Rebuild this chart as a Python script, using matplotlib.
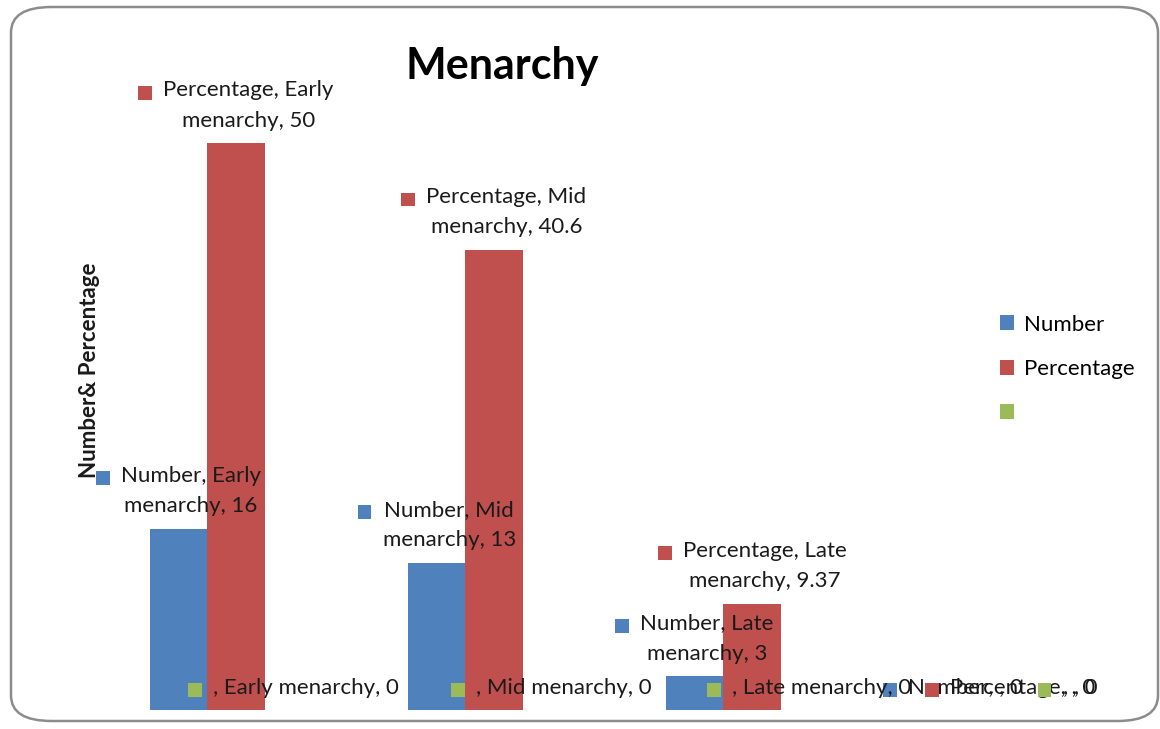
import textwrap

import matplotlib.pyplot as plt
import numpy as np
from matplotlib.offsetbox import AnnotationBbox, DrawingArea, HPacker, TextArea
from matplotlib.patches import FancyBboxPatch, Patch, Rectangle

categories = ["Early menarchy", "Mid menarchy", "Late menarchy", ""]
series_names = ["Number", "Percentage", ""]
number = [16, 13, 3, 0]
percentage = [50, 40.6, 9.37, 0]
third = [0, 0, 0, 0]
colors = ["#4f81bd", "#c0504d", "#9bbb59"]

plt.rcParams["font.family"] = ["Lato", "DejaVu Sans"]

fig = plt.figure(figsize=(11.6, 7.29), dpi=100)
ax = fig.add_axes([107 / 1160, 19 / 729, 1032 / 1160, 680 / 729])

# rounded chart border, Excel style
border = FancyBboxPatch((11 / 1160, 8 / 729), 1147 / 1160, 714 / 729,
                        boxstyle="round,pad=0,rounding_size=0.035",
                        transform=fig.transFigure, facecolor="none",
                        edgecolor="#8c8c8c", linewidth=1.8, zorder=0)
fig.patches.append(border)

x = np.arange(len(categories))
w = 1 / 4.5
all_values = [number, percentage, third]

for i, (name, vals) in enumerate(zip(series_names, all_values)):
    pos = x + (i - 1) * w
    ax.bar(pos, vals, width=w, color=colors[i], zorder=2)
    for px, val, cat in zip(pos, vals, categories):
        label = textwrap.fill(f"{name}, {cat}, {val:g}", width=19)
        da = DrawingArea(12, 14, 0, 0)
        da.add_artist(Rectangle((0, 0), 10, 10, facecolor=colors[i],
                                edgecolor="none"))
        ta = TextArea(label, textprops=dict(fontsize=16, color="#1a1a1a",
                                            multialignment="center",
                                            linespacing=1.65))
        box = HPacker(children=[da, ta], align="top", pad=0, sep=6)
        ab = AnnotationBbox(box, (px, val), xybox=(0, 9),
                            xycoords="data", boxcoords="offset points",
                            box_alignment=(0.5, 0), frameon=False,
                            pad=0, zorder=3)
        ax.add_artist(ab)

ax.set_xlim(-0.5, 3.5)
ax.set_ylim(0, 60)
ax.axis("off")

fig.text(502 / 1160, 1 - 66 / 729, "Menarchy", ha="center", va="center",
         fontsize=31, fontweight="bold")
fig.text(90 / 1160, 1 - 370 / 729, "Number& Percentage", rotation=90,
         ha="center", va="center", fontsize=16, fontweight="bold",
         color="#1a1a1a")

handles = [Patch(facecolor=c, edgecolor="none") for c in colors]
fig.legend(handles, series_names, loc="center left",
           bbox_to_anchor=(980 / 1160, 1 - 369 / 729), frameon=False,
           fontsize=16, handlelength=0.65, handleheight=0.65,
           handletextpad=0.45, labelspacing=1.1)

fig.savefig("out.png", dpi=100)
